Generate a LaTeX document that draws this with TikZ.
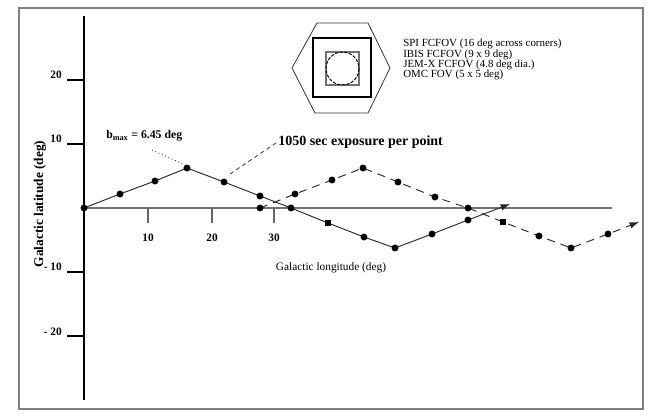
\documentclass[tikz,border=0pt]{standalone}
\usepackage{fontspec}
\setmainfont{Liberation Serif}
\usetikzlibrary{arrows.meta}
\tikzset{
  frameline/.style={draw=black!50, line width=1.5pt},
  axisv/.style={draw=black, line width=0.9pt},
  axish/.style={draw=black!55, line width=1.4pt},
  tickv/.style={draw=black!60, line width=1pt},
  tickh/.style={draw=black, line width=0.8pt},
  track/.style={draw=black!85, line width=0.7pt},
  dtrack/.style={track, dash pattern=on 6pt off 4.5pt},
  dotm/.style={circle, fill=black, inner sep=0pt, minimum size=5.2pt},
  sqm/.style={rectangle, fill=black, inner sep=0pt, minimum size=4.6pt},
  tip/.style={-{Latex[length=7pt,width=5pt]}},
  ticklab/.style={font=\fontsize{8.5}{10}\selectfont\bfseries, inner sep=0pt},
  legtext/.style={font=\fontsize{8.2}{10}\selectfont, anchor=west, inner sep=0pt},
}
\begin{document}
\begin{tikzpicture}[x=0.75pt,y=-0.75pt]
\useasboundingbox (0,0) rectangle (664,420);
% frame
\path[frameline] (19,8) rectangle (643,409);
% axes
\coordinate (vtop) at (84,16);
\coordinate (vbot) at (84,400);
\coordinate (hl) at (84,208);
\coordinate (hr) at (612,208);
\draw[axish] (hl) -- (hr);
\draw[axisv] (vtop) -- (vbot);
% y ticks
\foreach \yy/\lab/\nm in {80/20/ya, 144/10/yb, 272/- 10/yc, 336/- 20/yd}{
  \coordinate (\nm0) at (67,\yy);
  \coordinate (\nm1) at (84,\yy);
  \draw[tickh] (\nm0) -- (\nm1);
  \node[ticklab, anchor=base east] (\nm l) at (62,\yy-1) {\lab};
}
% x ticks
\foreach \xx/\lab/\nm in {148/10/xa, 212/20/xb, 274/30/xc}{
  \coordinate (\nm0) at (\xx,208);
  \coordinate (\nm1) at (\xx,223);
  \draw[tickv] (\nm0) -- (\nm1);
  \node[ticklab] (\nm l) at (\xx,238) {\lab};
}
% axis labels
\node[font=\fontsize{10}{12}\selectfont\bfseries, rotate=90, inner sep=0pt] (ylab) at (40,204) {Galactic latitude (deg)};
\node[font=\fontsize{8.5}{10}\selectfont, inner sep=0pt] (xlab) at (331,268) {Galactic longitude (deg)};
% solid track
\foreach \nm/\px/\py in {s0/84/208, s1/120/194, s2/155/181, s3/187/168, s4/224/182, s5/260/196, s6/291/208, s7/328/223, s8/364/237, s9/395/248, s10/432/234, s11/468/220, sT/510/204}{
  \coordinate (\nm) at (\px,\py);
}
% dashed track
\foreach \nm/\px/\py in {d0/260/208, d1/295/194, d2/332/180, d3/363/168, d4/398/182, d5/435/197, d6/468/208, d7/503/222, d8/539/236, d9/571/248, d10/608/234, dT/639/222}{
  \coordinate (\nm) at (\px,\py);
}
\draw[track, tip] (s0) -- (s1) -- (s2) -- (s3) -- (s4) -- (s5) -- (s6) -- (s7) -- (s8) -- (s9) -- (s10) -- (s11) -- (sT);
\draw[dtrack, tip] (d0) -- (d1) -- (d2) -- (d3) -- (d4) -- (d5) -- (d6) -- (d7) -- (d8) -- (d9) -- (d10) -- (dT);
\foreach \nm in {s0,s1,s2,s3,s4,s5,s6,s8,s9,s10,s11,d0,d1,d2,d3,d4,d5,d6,d8,d9,d10}{
  \node[dotm] (m\nm) at (\nm) {};
}
\node[sqm] (ms7) at (s7) {};
\node[sqm] (md7) at (d7) {};
% annotations
\node[font=\fontsize{8.8}{10}\selectfont\bfseries, anchor=west, inner sep=0pt] (bmax) at (106,136) {b\textsubscript{max} = 6.45 deg};
\node[font=\fontsize{10.5}{12}\selectfont\bfseries, anchor=west, inner sep=0pt] (expo) at (278,142) {1050 sec exposure per point};
\coordinate (bl0) at (152,150);
\coordinate (bl1) at (183,164);
\draw[black!70, line width=0.7pt, dotted] (bl0) -- (bl1);
\coordinate (el0) at (276,143);
\coordinate (el1) at (230,174);
\draw[black!70, line width=0.7pt, dash pattern=on 3pt off 2.5pt] (el0) -- (el1);
% field of view inset
\coordinate (h1) at (317,23);
\coordinate (h2) at (368,23);
\coordinate (h3) at (390,68);
\coordinate (h4) at (368,113);
\coordinate (h5) at (315,113);
\coordinate (h6) at (292,68);
\draw[black!80, line width=0.6pt] (h1) -- (h2) -- (h3) -- (h4) -- (h5) -- (h6) -- cycle;
\draw[black, line width=0.8pt] (313,38) rectangle (371,97);
\draw[black!55, line width=0.9pt] (326,52) rectangle (359,85);
\draw[black, line width=0.7pt, dash pattern=on 2.5pt off 1pt] (342.5,68.5) circle [radius=16.5];
\node[legtext] (leg1) at (403,44) {SPI FCFOV (16 deg across corners)};
\node[legtext] (leg2) at (403,55) {IBIS FCFOV (9 x 9 deg)};
\node[legtext] (leg3) at (403,65) {JEM-X FCFOV (4.8 deg dia.)};
\node[legtext] (leg4) at (403,75) {OMC FOV (5 x 5 deg)};
\end{tikzpicture}
\end{document}
